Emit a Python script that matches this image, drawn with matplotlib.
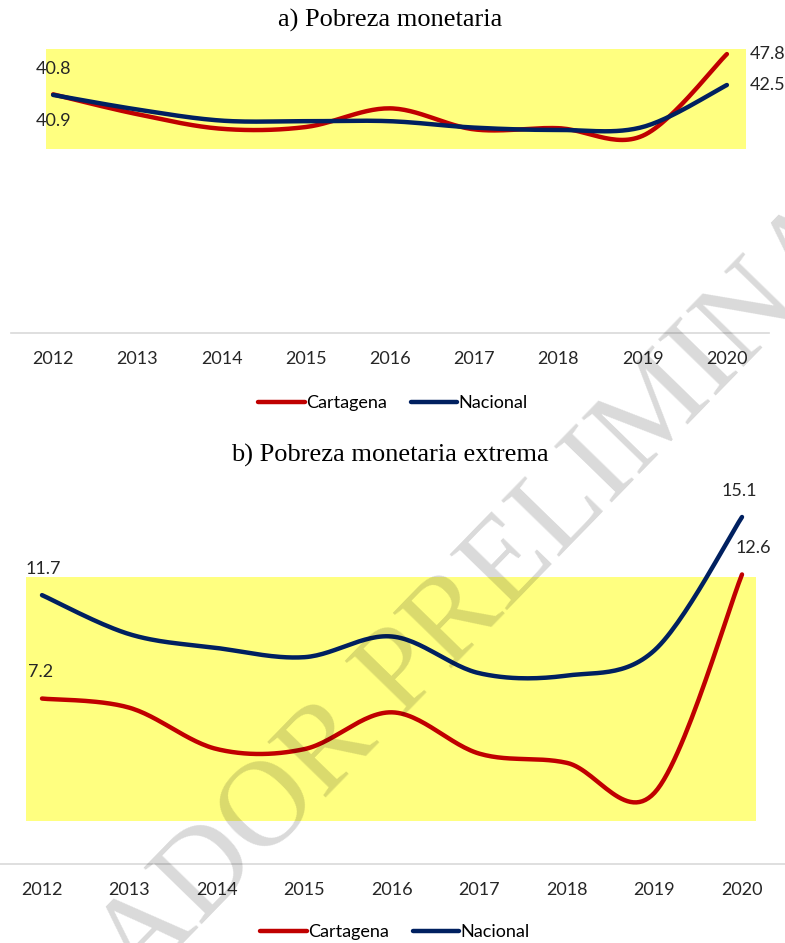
import numpy as np
import matplotlib
matplotlib.use("Agg")
import matplotlib.pyplot as plt
from matplotlib.patches import Rectangle

# data
years = [2012, 2013, 2014, 2015, 2016, 2017, 2018, 2019, 2020]
pobreza_cartagena = [40.9, 37.5, 35.0, 35.3, 38.5, 34.9, 35.1, 33.8, 47.8]
pobreza_nacional = [40.8, 38.3, 36.4, 36.3, 36.3, 35.2, 34.8, 35.3, 42.5]
extrema_cartagena = [7.2, 6.8, 5.0, 5.0, 6.6, 4.8, 4.4, 3.1, 12.6]
extrema_nacional = [11.7, 10.0, 9.4, 9.0, 9.9, 8.3, 8.2, 9.3, 15.1]

RED = "#C00000"
NAVY = "#002060"
YELLOW = "#FFFF80"
SANS = ["Lato", "DejaVu Sans"]
SERIF = ["Liberation Serif", "DejaVu Serif"]

W, H = 785, 943


def smooth(x, y, n=30):
    # Catmull-Rom curve through the points, like Excel's smoothed line
    x = np.asarray(x, float)
    y = np.asarray(y, float)
    px = np.concatenate([[x[0]], x, [x[-1]]])
    py = np.concatenate([[y[0]], y, [y[-1]]])
    xs, ys = [], []
    t = np.linspace(0, 1, n)
    h00 = 2 * t**3 - 3 * t**2 + 1
    h10 = t**3 - 2 * t**2 + t
    h01 = -2 * t**3 + 3 * t**2
    h11 = t**3 - t**2
    for i in range(len(x) - 1):
        mx0 = (px[i + 2] - px[i]) / 2
        my0 = (py[i + 2] - py[i]) / 2
        mx1 = (px[i + 3] - px[i + 1]) / 2
        my1 = (py[i + 3] - py[i + 1]) / 2
        xs.append(h00 * x[i] + h10 * mx0 + h01 * x[i + 1] + h11 * mx1)
        ys.append(h00 * y[i] + h10 * my0 + h01 * y[i + 1] + h11 * my1)
    return np.concatenate(xs), np.concatenate(ys)


def px_rect(x0, y0, x1, y1):
    return Rectangle((x0 / W, 1 - y1 / H), (x1 - x0) / W, (y1 - y0) / H,
                     transform=fig.transFigure, facecolor=YELLOW,
                     edgecolor="none", zorder=-5)


def style_axes(ax, ymax):
    ax.set_facecolor("none")
    ax.set_xlim(2011.5, 2020.5)
    ax.set_ylim(0, ymax)
    for s in ["top", "right", "left"]:
        ax.spines[s].set_visible(False)
    ax.spines["bottom"].set_color("#d9d9d9")
    ax.spines["bottom"].set_linewidth(1.2)
    ax.set_yticks([])
    ax.set_xticks(years)
    ax.set_xticklabels([str(y) for y in years], family=SANS, fontsize=13,
                       color="#262626")
    ax.tick_params(axis="x", length=0, pad=13)


def draw(ax, car, nac):
    sx, sy = smooth(years, car)
    ax.plot(sx, sy, color=RED, lw=3.2, solid_capstyle="round",
            label="Cartagena", zorder=3)
    sx, sy = smooth(years, nac)
    ax.plot(sx, sy, color=NAVY, lw=3.2, solid_capstyle="round",
            label="Nacional", zorder=4)


def label(ax, x, y, text, dx, dy):
    ax.annotate(text, (x, y), xytext=(dx, dy), textcoords="offset points",
                ha="center", va="center", family=SANS, fontsize=13,
                color="#262626", annotation_clip=False)


def legend(ax, cx, cy):
    ax.legend(loc="center", bbox_to_anchor=(cx / W, 1 - cy / H),
              bbox_transform=fig.transFigure, ncol=2, frameon=False,
              prop={"family": SANS, "size": 13}, handlelength=2.6,
              handletextpad=0.05, columnspacing=1.3)


fig = plt.figure(figsize=(W / 100, H / 100), dpi=100)

# a) Pobreza monetaria
ax1 = fig.add_axes([11 / W, (H - 333) / H, 758 / W, 291.75 / H])
style_axes(ax1, 50)
draw(ax1, pobreza_cartagena, pobreza_nacional)
fig.add_artist(px_rect(46, 49, 746, 149))
label(ax1, years[0], pobreza_nacional[0], "40.8", 0, 19)
label(ax1, years[0], pobreza_cartagena[0], "40.9", 0, -19)
label(ax1, years[-1], pobreza_cartagena[-1], "47.8", 29, 0)
label(ax1, years[-1], pobreza_nacional[-1], "42.5", 29, 0)
fig.text(390 / W, 1 - 20 / H, "a) Pobreza monetaria", ha="center", va="center",
         family=SERIF, fontsize=19)
legend(ax1, 393, 403)

# b) Pobreza monetaria extrema
ax2 = fig.add_axes([-1.75 / W, (H - 864) / H, 787.5 / W, 16 * 22.98 / H])
style_axes(ax2, 16)
draw(ax2, extrema_cartagena, extrema_nacional)
fig.add_artist(px_rect(26, 577, 756, 821))
label(ax2, years[0], extrema_nacional[0], "11.7", 1, 19)
label(ax2, years[0], extrema_cartagena[0], "7.2", -1, 19)
label(ax2, years[-1], extrema_nacional[-1], "15.1", -2, 19)
label(ax2, years[-1], extrema_cartagena[-1], "12.6", 8, 19)
fig.text(390 / W, 1 - 455 / H, "b) Pobreza monetaria extrema", ha="center",
         va="center", family=SERIF, fontsize=19)
legend(ax2, 395, 932)

# watermark
fig.text(414 / W, 1 - 706 / H, "BORRADOR PRELIMINAR", rotation=45.8,
         rotation_mode="anchor", ha="center", va="baseline", family=SERIF,
         fontsize=88, color="black", alpha=0.15, zorder=20)

fig.savefig("out.png", dpi=100)
